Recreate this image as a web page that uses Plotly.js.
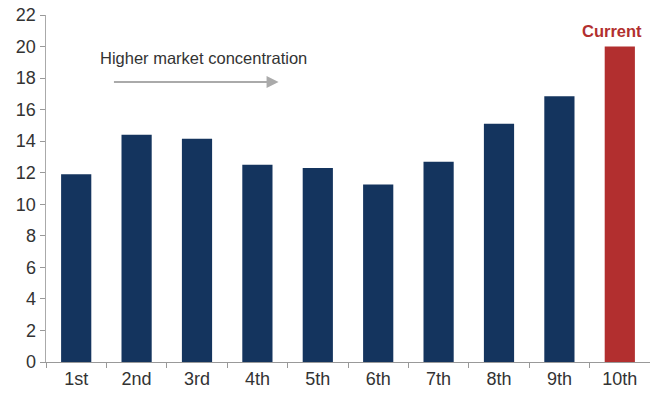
<!DOCTYPE html>
<html><head><meta charset="utf-8">
<script src="https://cdn.plot.ly/plotly-3.0.1.min.js"></script>
<style>html,body{margin:0;padding:0;background:#fff}</style>
</head><body>
<div id="chart" style="width:650px;height:395px"></div>
<script>
const categories = ["1st","2nd","3rd","4th","5th","6th","7th","8th","9th","10th"];
const values = [11.9, 14.4, 14.15, 12.5, 12.3, 11.25, 12.7, 15.1, 16.85, 20.0];
const barColors = ["#14345e","#14345e","#14345e","#14345e","#14345e","#14345e","#14345e","#14345e","#14345e","#b22f2f"];
const yTicks = [0,2,4,6,8,10,12,14,16,18,20,22];

const trace = {
  type: "bar",
  x: categories,
  y: values,
  marker: {color: barColors},
  hoverinfo: "x+y"
};
const layout = {
  width: 650, height: 395,
  margin: {l: 46, r: 0, t: 15, b: 33, pad: 0},
  paper_bgcolor: "#fff", plot_bgcolor: "#fff",
  font: {family: "Liberation Sans, Arial, sans-serif", size: 18, color: "#333"},
  bargap: 0.5,
  showlegend: false,
  xaxis: {
    type: "category",
    showline: true, linecolor: "#999", linewidth: 1,
    ticks: "outside", tickson: "boundaries", ticklen: 5, tickcolor: "#999",
    showgrid: false, zeroline: false,
    tickfont: {size: 18, color: "#333"}
  },
  yaxis: {
    range: [0, 22], tickvals: yTicks, ticktext: yTicks.map(String),
    showline: true, linecolor: "#aaa", linewidth: 1.5,
    ticks: "outside", ticklen: 5, tickcolor: "#999",
    showgrid: false, zeroline: false,
    tickfont: {size: 18, color: "#333"}
  },
  annotations: [
    {x: 2.1, y: 19.25, xref: "x", yref: "y", text: "Higher market concentration",
     showarrow: false, font: {size: 16.5, color: "#333"}},
    {x: 3.35, y: 17.75, xref: "x", yref: "y", ax: 0.6, ay: 17.75, axref: "x", ayref: "y",
     text: "", showarrow: true, arrowhead: 2, arrowsize: 1.2, arrowwidth: 2, arrowcolor: "#aaa"},
    {x: 9, y: 20, xref: "x", yref: "y", yanchor: "bottom", yshift: 5, xshift: -8, text: "<b>Current</b>",
     showarrow: false, font: {size: 16.5, color: "#b22f2f"}}
  ]
};
Plotly.newPlot("chart", [trace], layout, {displayModeBar: false, staticPlot: true});
</script>
</body></html>
